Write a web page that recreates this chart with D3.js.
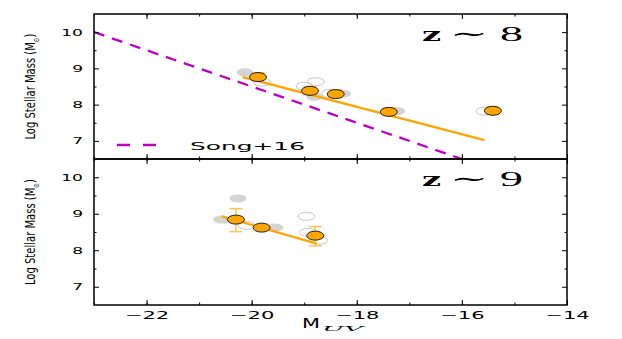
<html>
<head>
<meta charset="utf-8">
<script src="https://d3js.org/d3.v7.min.js"></script>
<style>
    body { margin: 0; background: #fff; }
    svg { display: block; }
    .tick text { font-family: 'DejaVu Sans'; fill: #000; }
    .tick line { stroke: #000; stroke-width: 1; }
</style>
</head>
<body>

<svg id="chart" width="622" height="339"></svg>

<script>

    // tick values
    var magTicks = [-22, -20, -18, -16, -14],
        magMinor = [-23, -22, -21, -20, -19, -18, -17, -16, -15, -14];
    var massTicks = [7, 8, 9, 10],
        massMinor = [7.5, 8.5, 9.5];

    // Song+16 relation (z~8)
    var songMag = [-23, -16],
        songMass = [10, 6.5];

    // z ~ 8 : this work (orange)
    var z8Mag = [-19.88, -18.89, -18.40, -17.39, -15.41],
        z8Mass = [8.76, 8.38, 8.29, 7.80, 7.83],
        z8ErrHi = [0.12, 0.12, 0.12, 0.10, 0.10],
        z8ErrLo = [0.10, 0.10, 0.10, 0.08, 0.08];
    var z8FitMag = [-20.17, -15.57],
        z8FitMass = [8.76, 7.02];
    // z ~ 8 : comparison points (gray filled / gray open)
    var z8GrayMag = [-20.13, -18.80, -18.27, -17.24],
        z8GrayMass = [8.89, 8.22, 8.30, 7.82];
    var z8OpenMag = [-19.81, -18.99, -18.78, -18.51, -15.57],
        z8OpenMass = [8.62, 8.51, 8.63, 8.31, 7.82];

    // z ~ 9 : this work
    var z9Mag = [-20.30, -19.81, -18.79],
        z9Mass = [8.84, 8.62, 8.40],
        z9ErrHi = [0.30, 0.04, 0.25],
        z9ErrLo = [0.33, 0.04, 0.28];
    var z9FitMag = [-20.57, -18.76],
        z9FitMass = [8.93, 8.18];
    var z9GrayMag = [-20.26, -20.57, -19.56],
        z9GrayMass = [9.42, 8.84, 8.62];
    var z9OpenMag = [-20.10, -18.96, -18.93, -18.72],
        z9OpenMass = [8.68, 8.93, 8.49, 8.27];

    var svg = d3.select('#chart');

    var left = 94, right = 567;

    var x = d3.scaleLinear()
            .domain([-23, -14])
            .range([left, right]);

    var panels = [
        { top: 14, bottom: 159, label: '8',
          mag: z8Mag, mass: z8Mass, hi: z8ErrHi, lo: z8ErrLo,
          fitMag: z8FitMag, fitMass: z8FitMass,
          grayMag: z8GrayMag, grayMass: z8GrayMass,
          openMag: z8OpenMag, openMass: z8OpenMass, song: true },
        { top: 159, bottom: 305, label: '9',
          mag: z9Mag, mass: z9Mass, hi: z9ErrHi, lo: z9ErrLo,
          fitMag: z9FitMag, fitMass: z9FitMass,
          grayMag: z9GrayMag, grayMass: z9GrayMass,
          openMag: z9OpenMag, openMass: z9OpenMass, song: false }
    ];

    function stretch(sel, f) {
        sel.each(function() {
            var w = this.getComputedTextLength();
            d3.select(this)
                .attr('textLength', w * f)
                .attr('lengthAdjust', 'spacingAndGlyphs');
        });
    }

    panels.forEach(function(p, ip) {

        var y = d3.scaleLinear()
                .domain([6.5, 10.5])
                .range([p.bottom, p.top]);

        var clipId = 'clip' + ip;
        svg.append('clipPath').attr('id', clipId)
          .append('rect')
            .attr('x', left).attr('y', p.top)
            .attr('width', right - left).attr('height', p.bottom - p.top);

        var g = svg.append('g').attr('clip-path', 'url(#' + clipId + ')');

        // gray comparison points
        g.selectAll('.gray')
            .data(d3.range(p.grayMag.length))
          .enter()
            .append('ellipse')
            .attr('cx', function(i) { return x(p.grayMag[i]); })
            .attr('cy', function(i) { return y(p.grayMass[i]); })
            .attr('rx', 8.5).attr('ry', 4)
            .style('fill', '#d4d4d4');

        g.selectAll('.open')
            .data(d3.range(p.openMag.length))
          .enter()
            .append('ellipse')
            .attr('cx', function(i) { return x(p.openMag[i]); })
            .attr('cy', function(i) { return y(p.openMass[i]); })
            .attr('rx', 8.5).attr('ry', 4)
            .style('fill', 'none')
            .style('stroke', '#c8c8c8')
            .style('stroke-width', 1);

        // Song+16
        if (p.song) {
            g.append('line')
                .attr('x1', x(songMag[0])).attr('y1', y(songMass[0]))
                .attr('x2', x(songMag[1])).attr('y2', y(songMass[1]))
                .style('stroke', '#c000c0')
                .style('stroke-width', 2.3)
                .style('stroke-dasharray', '11,8');
        }

        // fit
        g.append('line')
            .attr('x1', x(p.fitMag[0])).attr('y1', y(p.fitMass[0]))
            .attr('x2', x(p.fitMag[1])).attr('y2', y(p.fitMass[1]))
            .style('stroke', '#ffa500')
            .style('stroke-width', 2.3);

        // error bars
        var err = g.selectAll('.err')
            .data(d3.range(p.mag.length))
          .enter()
            .append('g')
            .style('stroke', '#ffb733')
            .style('stroke-opacity', 0.8)
            .style('stroke-width', 1.5);

        err.append('line')
            .attr('x1', function(i) { return x(p.mag[i]); })
            .attr('x2', function(i) { return x(p.mag[i]); })
            .attr('y1', function(i) { return y(p.mass[i] + p.hi[i]); })
            .attr('y2', function(i) { return y(p.mass[i] - p.lo[i]); });
        err.append('line')
            .attr('x1', function(i) { return x(p.mag[i]) - 6.5; })
            .attr('x2', function(i) { return x(p.mag[i]) + 6.5; })
            .attr('y1', function(i) { return y(p.mass[i] + p.hi[i]); })
            .attr('y2', function(i) { return y(p.mass[i] + p.hi[i]); });
        err.append('line')
            .attr('x1', function(i) { return x(p.mag[i]) - 6.5; })
            .attr('x2', function(i) { return x(p.mag[i]) + 6.5; })
            .attr('y1', function(i) { return y(p.mass[i] - p.lo[i]); })
            .attr('y2', function(i) { return y(p.mass[i] - p.lo[i]); });

        // orange points
        g.selectAll('.pt')
            .data(d3.range(p.mag.length))
          .enter()
            .append('ellipse')
            .attr('cx', function(i) { return x(p.mag[i]); })
            .attr('cy', function(i) { return y(p.mass[i]); })
            .attr('rx', 8.5).attr('ry', 4.5)
            .style('fill', '#ffa500')
            .style('stroke', '#222')
            .style('stroke-width', 1);

        // axes, ticks inward on all sides
        var yl = svg.append('g')
            .attr('transform', 'translate(' + left + ',0)')
            .call(d3.axisLeft(y).tickValues(massTicks).tickSize(-5).tickPadding(11)
                .tickFormat(d3.format('d')));
        svg.append('g')
            .attr('transform', 'translate(' + left + ',0)')
            .call(d3.axisLeft(y).tickValues(massMinor).tickSize(-2.5).tickFormat(''));
        svg.append('g')
            .attr('transform', 'translate(' + right + ',0)')
            .call(d3.axisRight(y).tickValues(massTicks).tickSize(-5).tickFormat(''));
        svg.append('g')
            .attr('transform', 'translate(' + right + ',0)')
            .call(d3.axisRight(y).tickValues(massMinor).tickSize(-2.5).tickFormat(''));

        var xb = svg.append('g')
            .attr('transform', 'translate(0,' + p.bottom + ')')
            .call(d3.axisBottom(x).tickValues(magTicks).tickSize(-5).tickPadding(4)
                .tickFormat(ip === 1 ? d3.format('d') : ''));
        svg.append('g')
            .attr('transform', 'translate(0,' + p.bottom + ')')
            .call(d3.axisBottom(x).tickValues(magMinor).tickSize(-2.5).tickFormat(''));
        svg.append('g')
            .attr('transform', 'translate(0,' + p.top + ')')
            .call(d3.axisTop(x).tickValues(magTicks).tickSize(-5).tickFormat(''));
        svg.append('g')
            .attr('transform', 'translate(0,' + p.top + ')')
            .call(d3.axisTop(x).tickValues(magMinor).tickSize(-2.5).tickFormat(''));

        svg.selectAll('.domain').remove();

        yl.selectAll('text').style('font-size', '9.5px');
        stretch(yl.selectAll('text'), 1.8);
        xb.selectAll('text').style('font-size', '10px').attr('dy', '0.95em');
        stretch(xb.selectAll('text'), 2.1);

        // frame
        svg.append('rect')
            .attr('x', left).attr('y', p.top)
            .attr('width', right - left).attr('height', p.bottom - p.top)
            .style('fill', 'none')
            .style('stroke', '#000')
            .style('stroke-width', 1.5);

        // y label
        var yt = svg.append('text')
            .attr('transform', 'translate(35,' + ((p.top + p.bottom) / 2) + ') rotate(-90)')
            .attr('text-anchor', 'middle')
            .style('font-family', "'DejaVu Sans Condensed', 'DejaVu Sans'")
            .style('font-size', '14px');
        yt.append('tspan').text('Log Stellar Mass (M');
        yt.append('tspan').text('\u2299').style('font-size', '8px').attr('dy', 4);
        yt.append('tspan').text(')').attr('dy', -4);
        yt.attr('textLength', 106).attr('lengthAdjust', 'spacingAndGlyphs');

        // redshift label
        var base = p.top + 27;
        svg.append('text')
            .attr('x', 422).attr('y', base)
            .style('font-family', "'DejaVu Serif'")
            .style('font-weight', 'bold')
            .style('font-size', '19px')
            .attr('textLength', 19).attr('lengthAdjust', 'spacingAndGlyphs')
            .text('z');
        svg.append('text')
            .attr('x', 450).attr('y', base)
            .style('font-family', "'DejaVu Serif'")
            .style('font-size', '21px')
            .attr('textLength', 38).attr('lengthAdjust', 'spacingAndGlyphs')
            .text('\u223C');
        svg.append('text')
            .attr('x', 500).attr('y', base)
            .style('font-family', "'Liberation Serif'")
            .style('font-size', '21px')
            .attr('textLength', 23).attr('lengthAdjust', 'spacingAndGlyphs')
            .text(p.label);
    });

    // legend
    svg.append('line')
        .attr('x1', 117).attr('x2', 157)
        .attr('y1', 145).attr('y2', 145)
        .style('stroke', '#c000c0')
        .style('stroke-width', 2.3)
        .style('stroke-dasharray', '13,13');
    svg.append('text')
        .attr('x', 190).attr('y', 149.5)
        .style('font-family', "'DejaVu Sans'")
        .style('font-size', '10px')
        .attr('textLength', 115).attr('lengthAdjust', 'spacingAndGlyphs')
        .text('Song+16');

    // x label
    svg.append('text')
        .attr('x', 302).attr('y', 328)
        .style('font-family', "'DejaVu Sans'")
        .style('font-size', '14px')
        .attr('textLength', 18).attr('lengthAdjust', 'spacingAndGlyphs')
        .text('M');
    svg.append('text')
        .attr('x', 322).attr('y', 331)
        .style('font-family', "'DejaVu Serif'")
        .style('font-style', 'italic')
        .style('font-size', '8px')
        .attr('textLength', 41).attr('lengthAdjust', 'spacingAndGlyphs')
        .text('UV');

</script>

</body>
</html>
